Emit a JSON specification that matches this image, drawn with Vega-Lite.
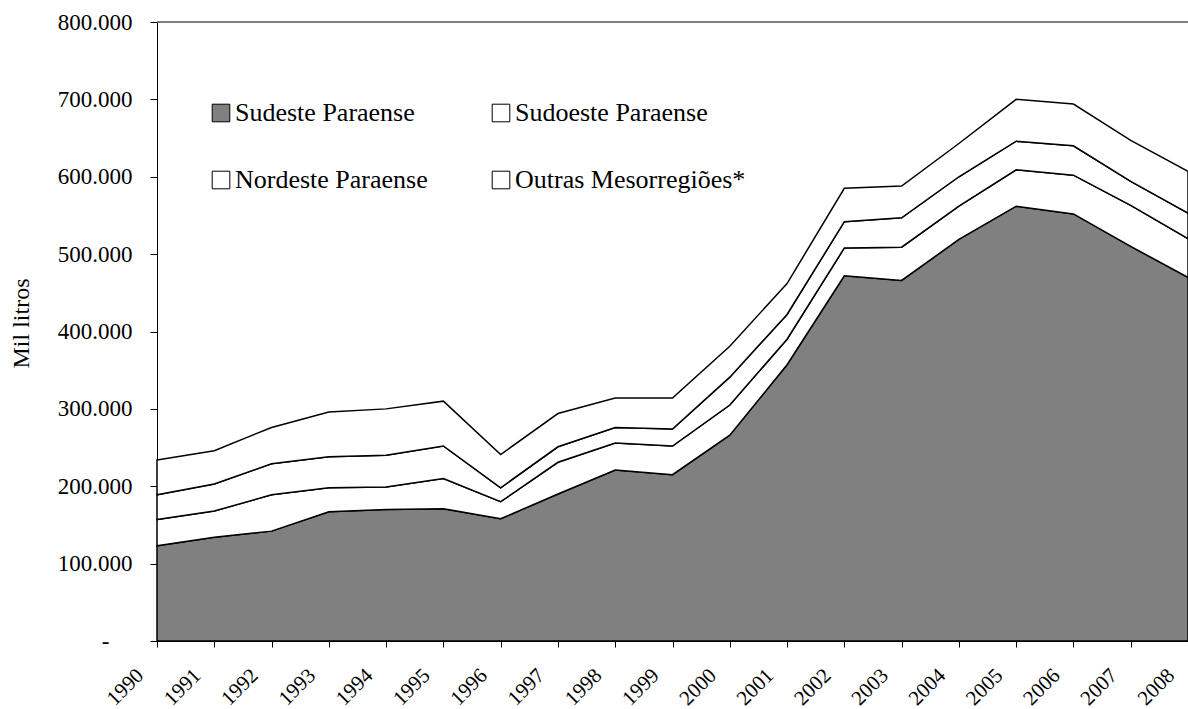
{
  "$schema": "https://vega.github.io/schema/vega-lite/v6.json",
  "width": 1031,
  "height": 619,
  "autosize": {"type": "none"},
  "padding": {"left": 157, "top": 22, "right": 0, "bottom": 68},
  "background": "white",
  "config": {
    "font": "Liberation Serif",
    "view": {"stroke": null},
    "axis": {"grid": false, "domainColor": "black", "tickColor": "black", "labelColor": "black", "titleColor": "black", "labelFont": "Liberation Serif", "titleFont": "Liberation Serif"}
  },
  "layer": [
    {
      "data": {"values": [
        {"ano": 1990, "regiao": "Sudeste Paraense", "valor": 123000},
        {"ano": 1990, "regiao": "Sudoeste Paraense", "valor": 34000},
        {"ano": 1990, "regiao": "Nordeste Paraense", "valor": 32000},
        {"ano": 1990, "regiao": "Outras Mesorregiões*", "valor": 45000},
        {"ano": 1991, "regiao": "Sudeste Paraense", "valor": 134000},
        {"ano": 1991, "regiao": "Sudoeste Paraense", "valor": 34000},
        {"ano": 1991, "regiao": "Nordeste Paraense", "valor": 35000},
        {"ano": 1991, "regiao": "Outras Mesorregiões*", "valor": 43000},
        {"ano": 1992, "regiao": "Sudeste Paraense", "valor": 142000},
        {"ano": 1992, "regiao": "Sudoeste Paraense", "valor": 47000},
        {"ano": 1992, "regiao": "Nordeste Paraense", "valor": 40000},
        {"ano": 1992, "regiao": "Outras Mesorregiões*", "valor": 47000},
        {"ano": 1993, "regiao": "Sudeste Paraense", "valor": 167000},
        {"ano": 1993, "regiao": "Sudoeste Paraense", "valor": 31000},
        {"ano": 1993, "regiao": "Nordeste Paraense", "valor": 40000},
        {"ano": 1993, "regiao": "Outras Mesorregiões*", "valor": 58000},
        {"ano": 1994, "regiao": "Sudeste Paraense", "valor": 170000},
        {"ano": 1994, "regiao": "Sudoeste Paraense", "valor": 29000},
        {"ano": 1994, "regiao": "Nordeste Paraense", "valor": 41000},
        {"ano": 1994, "regiao": "Outras Mesorregiões*", "valor": 60000},
        {"ano": 1995, "regiao": "Sudeste Paraense", "valor": 171000},
        {"ano": 1995, "regiao": "Sudoeste Paraense", "valor": 39000},
        {"ano": 1995, "regiao": "Nordeste Paraense", "valor": 42000},
        {"ano": 1995, "regiao": "Outras Mesorregiões*", "valor": 58000},
        {"ano": 1996, "regiao": "Sudeste Paraense", "valor": 158000},
        {"ano": 1996, "regiao": "Sudoeste Paraense", "valor": 22000},
        {"ano": 1996, "regiao": "Nordeste Paraense", "valor": 18000},
        {"ano": 1996, "regiao": "Outras Mesorregiões*", "valor": 43000},
        {"ano": 1997, "regiao": "Sudeste Paraense", "valor": 190000},
        {"ano": 1997, "regiao": "Sudoeste Paraense", "valor": 41000},
        {"ano": 1997, "regiao": "Nordeste Paraense", "valor": 20000},
        {"ano": 1997, "regiao": "Outras Mesorregiões*", "valor": 43000},
        {"ano": 1998, "regiao": "Sudeste Paraense", "valor": 221000},
        {"ano": 1998, "regiao": "Sudoeste Paraense", "valor": 35000},
        {"ano": 1998, "regiao": "Nordeste Paraense", "valor": 20000},
        {"ano": 1998, "regiao": "Outras Mesorregiões*", "valor": 38000},
        {"ano": 1999, "regiao": "Sudeste Paraense", "valor": 215000},
        {"ano": 1999, "regiao": "Sudoeste Paraense", "valor": 37000},
        {"ano": 1999, "regiao": "Nordeste Paraense", "valor": 22000},
        {"ano": 1999, "regiao": "Outras Mesorregiões*", "valor": 40000},
        {"ano": 2000, "regiao": "Sudeste Paraense", "valor": 266000},
        {"ano": 2000, "regiao": "Sudoeste Paraense", "valor": 39000},
        {"ano": 2000, "regiao": "Nordeste Paraense", "valor": 36000},
        {"ano": 2000, "regiao": "Outras Mesorregiões*", "valor": 40000},
        {"ano": 2001, "regiao": "Sudeste Paraense", "valor": 357000},
        {"ano": 2001, "regiao": "Sudoeste Paraense", "valor": 33000},
        {"ano": 2001, "regiao": "Nordeste Paraense", "valor": 32000},
        {"ano": 2001, "regiao": "Outras Mesorregiões*", "valor": 40000},
        {"ano": 2002, "regiao": "Sudeste Paraense", "valor": 472000},
        {"ano": 2002, "regiao": "Sudoeste Paraense", "valor": 36000},
        {"ano": 2002, "regiao": "Nordeste Paraense", "valor": 34000},
        {"ano": 2002, "regiao": "Outras Mesorregiões*", "valor": 43000},
        {"ano": 2003, "regiao": "Sudeste Paraense", "valor": 466000},
        {"ano": 2003, "regiao": "Sudoeste Paraense", "valor": 43000},
        {"ano": 2003, "regiao": "Nordeste Paraense", "valor": 38000},
        {"ano": 2003, "regiao": "Outras Mesorregiões*", "valor": 41000},
        {"ano": 2004, "regiao": "Sudeste Paraense", "valor": 519000},
        {"ano": 2004, "regiao": "Sudoeste Paraense", "valor": 43000},
        {"ano": 2004, "regiao": "Nordeste Paraense", "valor": 38000},
        {"ano": 2004, "regiao": "Outras Mesorregiões*", "valor": 43000},
        {"ano": 2005, "regiao": "Sudeste Paraense", "valor": 562000},
        {"ano": 2005, "regiao": "Sudoeste Paraense", "valor": 47000},
        {"ano": 2005, "regiao": "Nordeste Paraense", "valor": 37000},
        {"ano": 2005, "regiao": "Outras Mesorregiões*", "valor": 54000},
        {"ano": 2006, "regiao": "Sudeste Paraense", "valor": 552000},
        {"ano": 2006, "regiao": "Sudoeste Paraense", "valor": 50000},
        {"ano": 2006, "regiao": "Nordeste Paraense", "valor": 38000},
        {"ano": 2006, "regiao": "Outras Mesorregiões*", "valor": 54000},
        {"ano": 2007, "regiao": "Sudeste Paraense", "valor": 510000},
        {"ano": 2007, "regiao": "Sudoeste Paraense", "valor": 53000},
        {"ano": 2007, "regiao": "Nordeste Paraense", "valor": 31000},
        {"ano": 2007, "regiao": "Outras Mesorregiões*", "valor": 53000},
        {"ano": 2008, "regiao": "Sudeste Paraense", "valor": 470000},
        {"ano": 2008, "regiao": "Sudoeste Paraense", "valor": 50000},
        {"ano": 2008, "regiao": "Nordeste Paraense", "valor": 33000},
        {"ano": 2008, "regiao": "Outras Mesorregiões*", "valor": 54000}
      ]},
      "transform": [
        {"calculate": "indexof(['Sudeste Paraense','Sudoeste Paraense','Nordeste Paraense','Outras Mesorregiões*'], datum.regiao)", "as": "ordem"},
        {"stack": "valor", "groupby": ["ano"], "sort": [{"field": "ordem", "order": "ascending"}], "as": ["v0", "v1"]}
      ],
      "mark": {"type": "area", "stroke": "black", "strokeWidth": 1.5, "opacity": 1},
      "encoding": {
        "x": {
          "field": "ano", "type": "quantitative",
          "scale": {"domain": [1990, 2008], "nice": false, "zero": false},
          "axis": {
            "title": null,
            "values": [1990,1991,1992,1993,1994,1995,1996,1997,1998,1999,2000,2001,2002,2003,2004,2005,2006,2007,2008],
            "format": "d",
            "labelAngle": -45, "labelAlign": "right", "labelBaseline": "middle",
            "labelFontSize": 21, "labelPadding": 25, "labelOffset": -17,
            "labelOverlap": false, "labelFlush": false, "labelBound": false,
            "tickSize": 6
          }
        },
        "y": {
          "field": "v1", "type": "quantitative",
          "scale": {"domain": [0, 800000], "nice": false},
          "axis": {
            "title": "Mil litros", "titleFontSize": 24, "titleFontWeight": "normal", "titlePadding": 24, "titleY": 301,
            "values": [0,100000,200000,300000,400000,500000,600000,700000,800000],
            "labelExpr": "datum.value == 0 ? '-\u00a0\u00a0\u00a0\u00a0\u200b' : replace(format(datum.value, ',d'), ',', '.')",
            "labelFontSize": 23, "labelPadding": 18, "tickSize": 7
          }
        },
        "y2": {"field": "v0"},
        "fill": {
          "field": "regiao", "type": "nominal",
          "scale": {"domain": ["Sudeste Paraense", "Nordeste Paraense", "Sudoeste Paraense", "Outras Mesorregiões*"], "range": ["#808080", "#ffffff", "#ffffff", "#ffffff"]},
          "legend": {
            "title": null, "orient": "none", "legendX": 51, "legendY": 78, "columns": 2,
            "columnPadding": 60, "rowPadding": 41, "padding": 0,
            "symbolType": "square", "symbolSize": 310, "symbolStrokeColor": "black", "symbolStrokeWidth": 1,
            "labelFontSize": 26, "labelFont": "Liberation Serif", "labelColor": "black", "labelOffset": 1, "labelLimit": 400
          }
        }
      }
    },
    {
      "data": {"values": [{"topo": 800000}]},
      "mark": {"type": "rule", "color": "black", "strokeWidth": 1},
      "encoding": {"y": {"field": "topo", "type": "quantitative"}}
    }
  ]
}
